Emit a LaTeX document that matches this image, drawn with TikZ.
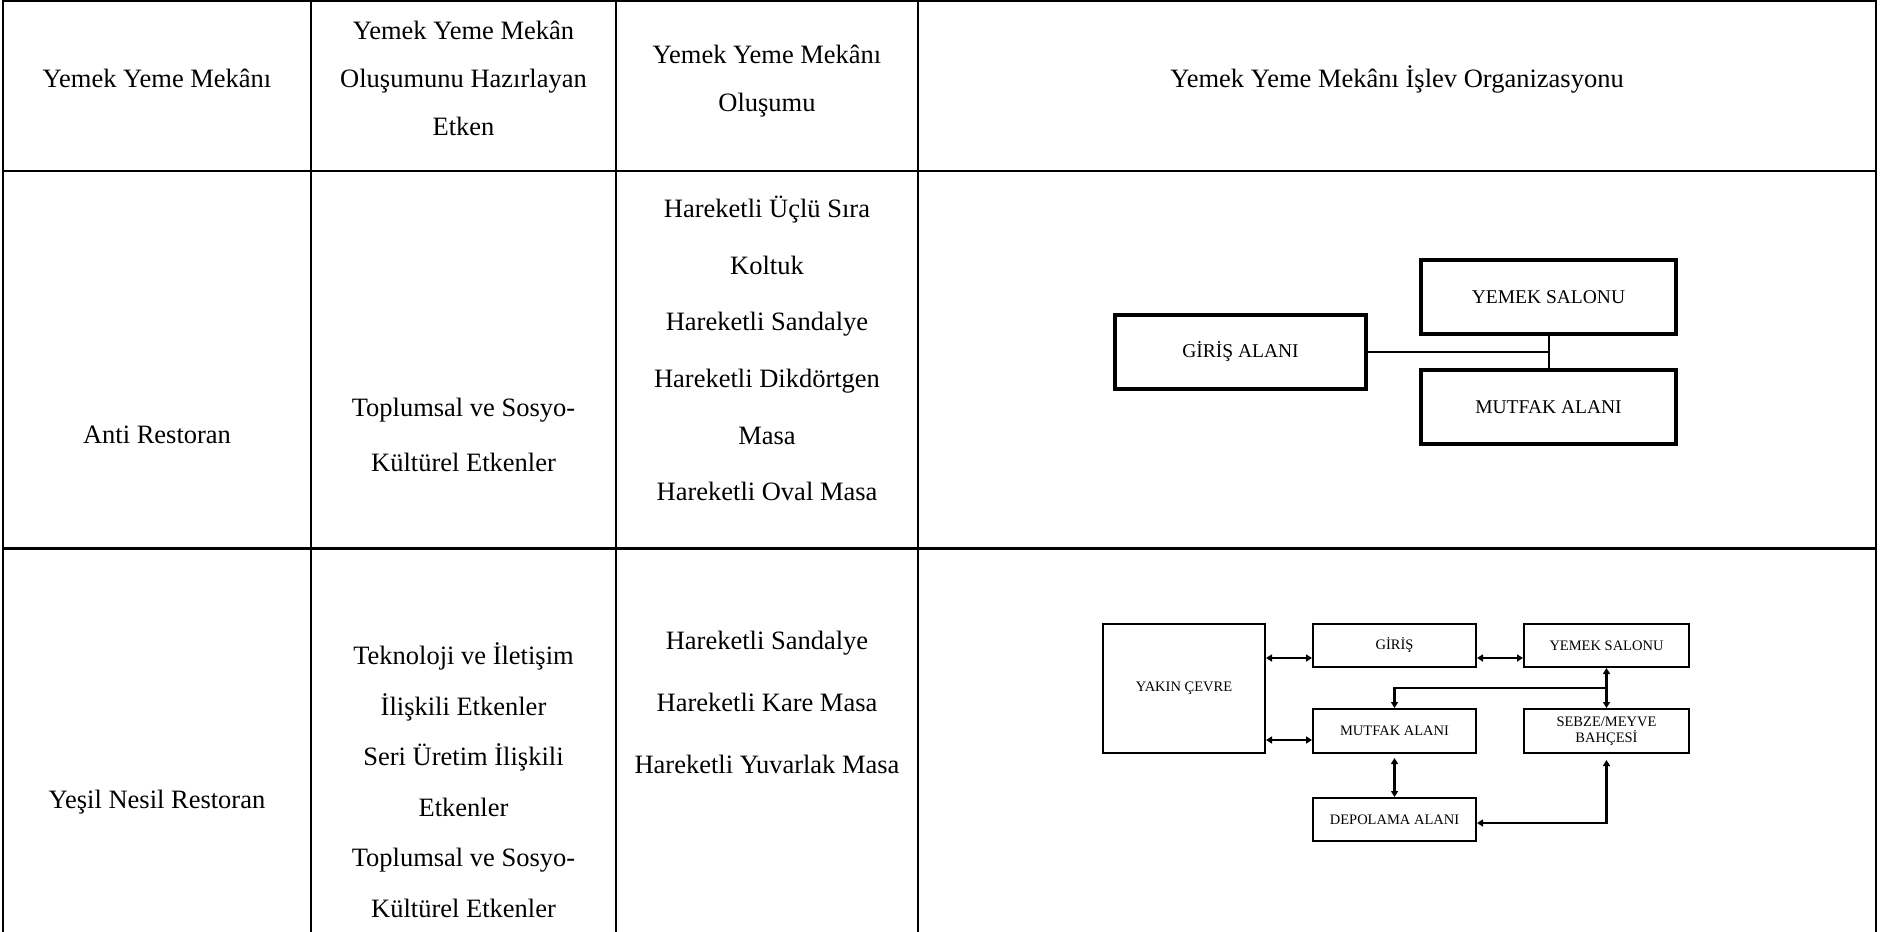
\documentclass[tikz,border=0pt]{standalone}
\usepackage{fontspec}
\setmainfont{Liberation Serif}
\usetikzlibrary{arrows.meta}
\begin{document}
\begin{tikzpicture}[x=1pt,y=-1pt,
  tab/.style={font=\fontsize{26.5}{30}\selectfont, inner sep=0pt, anchor=base},
  grid/.style={line width=2.2pt},
  boxA/.style={draw, line width=4pt, inner sep=0pt, font=\fontsize{19.5}{22}\selectfont},
  boxB/.style={draw, line width=2.3pt, inner sep=0pt, align=center, font=\fontsize{14.5}{17.5}\selectfont},
  link/.style={line width=2pt},
  dar/.style={line width=2.3pt, {Triangle[length=6pt,width=7pt]}-{Triangle[length=6pt,width=7pt]}},
  sar/.style={line width=2.3pt, -{Triangle[length=6pt,width=7pt]}}
]
\useasboundingbox (0,0) rectangle (1883,932);
\fill[white] (0,0) rectangle (1883,932);

% table grid
\draw[grid] (3,1) -- (1876,1);
\draw[grid] (3,171) -- (1876,171);
\draw[line width=3pt] (3,548) -- (1876,548);
\foreach \x in {3,311,616,918,1876} \draw[grid] (\x,0) -- (\x,932);

% header
\node[tab] (h1)  at (157,87)   {Yemek Yeme Mekânı};
\node[tab] (h2a) at (463.5,39) {Yemek Yeme Mekân};
\node[tab] (h2b) at (463.5,87) {Oluşumunu Hazırlayan};
\node[tab] (h2c) at (463.5,135){Etken};
\node[tab] (h3a) at (767,63)   {Yemek Yeme Mekânı};
\node[tab] (h3b) at (767,111)  {Oluşumu};
\node[tab] (h4)  at (1397,87)  {Yemek Yeme Mekânı İşlev Organizasyonu};

% row 1
\node[tab] (a1)  at (157,443)   {Anti Restoran};
\node[tab] (a2a) at (463.5,416) {Toplumsal ve Sosyo-};
\node[tab] (a2b) at (463.5,471) {Kültürel Etkenler};
\node[tab] (a3a) at (767,217) {Hareketli Üçlü Sıra};
\node[tab] (a3b) at (767,274) {Koltuk};
\node[tab] (a3c) at (767,330) {Hareketli Sandalye};
\node[tab] (a3d) at (767,387) {Hareketli Dikdörtgen};
\node[tab] (a3e) at (767,444) {Masa};
\node[tab] (a3f) at (767,500) {Hareketli Oval Masa};

% row 2
\node[tab] (b1)  at (157,808)   {Yeşil Nesil Restoran};
\node[tab] (b2a) at (463.5,664) {Teknoloji ve İletişim};
\node[tab] (b2b) at (463.5,715) {İlişkili Etkenler};
\node[tab] (b2c) at (463.5,765) {Seri Üretim İlişkili};
\node[tab] (b2d) at (463.5,816) {Etkenler};
\node[tab] (b2e) at (463.5,866) {Toplumsal ve Sosyo-};
\node[tab] (b2f) at (463.5,917) {Kültürel Etkenler};
\node[tab] (b3a) at (767,649) {Hareketli Sandalye};
\node[tab] (b3b) at (767,711) {Hareketli Kare Masa};
\node[tab] (b3c) at (767,773) {Hareketli Yuvarlak Masa};

% diagram 1
\node[boxA, minimum width=251pt, minimum height=74pt] (ga) at (1240.5,352) {GİRİŞ ALANI};
\node[boxA, minimum width=255pt, minimum height=74pt] (ys) at (1548.5,297) {YEMEK SALONU};
\node[boxA, minimum width=255pt, minimum height=74pt] (ma) at (1548.5,407) {MUTFAK ALANI};
\draw[link] (ga.east) -- (ga.east -| ys.south);
\draw[link] (ys.south) -- (ma.north);

% diagram 2
\node[boxB, minimum width=161.7pt, minimum height=128.7pt] (yc) at (1184,688.5) {YAKIN ÇEVRE};
\node[boxB, minimum width=162.7pt, minimum height=42.7pt] (gi) at (1394.5,645.5) {GİRİŞ};
\node[boxB, minimum width=164.7pt, minimum height=42.7pt] (ys2) at (1606.5,645.5) {YEMEK SALONU};
\node[boxB, minimum width=162.7pt, minimum height=43.7pt] (mu) at (1394.5,731) {MUTFAK ALANI};
\node[boxB, minimum width=164.7pt, minimum height=43.7pt] (sb) at (1606.5,731) {SEBZE/MEYVE\\[-2pt]BAHÇESİ};
\node[boxB, minimum width=162.7pt, minimum height=42.7pt] (dp) at (1394.5,819.5) {DEPOLAMA ALANI};

\coordinate (r1) at (0,658);
\coordinate (r2) at (0,740);
\coordinate (br) at (1606.5,688);
\coordinate (r3) at (0,823);
\draw[dar] (yc.east |- r1) -- (gi.west |- r1);
\draw[dar] (yc.east |- r2) -- (mu.west |- r2);
\draw[dar] (gi.east |- r1) -- (ys2.west |- r1);
\draw[dar] (ys2.south) -- (sb.north);
\draw[sar] (br) -| (mu.north);
\draw[dar, shorten <=4pt] (mu.south) -- (dp.north);
\draw[dar, shorten <=6pt] (sb.south) -- (sb.south |- r3) -- (dp.east |- r3);
\end{tikzpicture}
\end{document}
